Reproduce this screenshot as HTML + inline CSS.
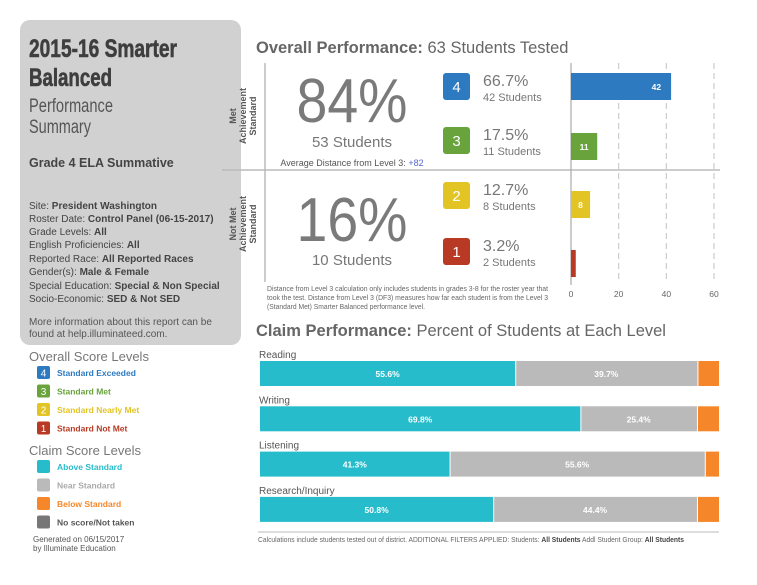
<!DOCTYPE html>
<html><head><meta charset="utf-8"><style>
body{margin:0;background:#fff;}
svg{display:block;font-family:"Liberation Sans",sans-serif;}
</style></head><body>
<svg id="c" width="757" height="585" viewBox="0 0 757 585">
<rect x="20" y="20" width="221" height="325" rx="10" fill="#d1d1d1"/>
<g font-weight="bold" fill="#3e3e3e" stroke="#3e3e3e" stroke-width="0.6" font-size="25">
<text x="29" y="57" textLength="148" lengthAdjust="spacingAndGlyphs">2015-16 Smarter</text>
<text x="29" y="86" textLength="83" lengthAdjust="spacingAndGlyphs">Balanced</text></g>
<g fill="#555" font-size="19">
<text x="29" y="112" textLength="84" lengthAdjust="spacingAndGlyphs">Performance</text>
<text x="29" y="133" textLength="62" lengthAdjust="spacingAndGlyphs">Summary</text></g>
<text x="29" y="167" font-size="12.5" font-weight="bold" fill="#444">Grade 4 ELA Summative</text>
<g font-size="10" fill="#444">
<text x="29" y="209">Site: <tspan font-weight="bold">President Washington</tspan></text>
<text x="29" y="222">Roster Date: <tspan font-weight="bold">Control Panel (06-15-2017)</tspan></text>
<text x="29" y="235">Grade Levels: <tspan font-weight="bold">All</tspan></text>
<text x="29" y="248">English Proficiencies: <tspan font-weight="bold">All</tspan></text>
<text x="29" y="262">Reported Race: <tspan font-weight="bold">All Reported Races</tspan></text>
<text x="29" y="275">Gender(s): <tspan font-weight="bold">Male &amp; Female</tspan></text>
<text x="29" y="289">Special Education: <tspan font-weight="bold">Special &amp; Non Special</tspan></text>
<text x="29" y="302">Socio-Economic: <tspan font-weight="bold">SED &amp; Not SED</tspan></text>
<text x="29" y="325" fill="#555">More information about this report can be</text>
<text x="29" y="337" fill="#555">found at help.illuminateed.com.</text></g>
<text x="29" y="361" font-size="13" fill="#777">Overall Score Levels</text>
<text x="29" y="455" font-size="13" fill="#777">Claim Score Levels</text>
<g id="legend"></g>
<text x="33" y="542" font-size="8" fill="#555">Generated on 06/15/2017</text>
<text x="33" y="551" font-size="8" fill="#555">by Illuminate Education</text>

<text x="256" y="53" font-size="16.5" fill="#666"><tspan font-weight="bold">Overall Performance:</tspan> 63 Students Tested</text>
<line x1="222" y1="170" x2="720" y2="170" stroke="#bbb" stroke-width="1.5"/>
<line x1="265" y1="63" x2="265" y2="282" stroke="#bbb" stroke-width="1.5"/>
<g font-size="9" font-weight="bold" fill="#555" text-anchor="middle" transform="translate(246 116) rotate(-90)">
<text x="0" y="-10">Met</text><text x="0" y="0">Achievement</text><text x="0" y="10">Standard</text></g>
<g font-size="9" font-weight="bold" fill="#555" text-anchor="middle" transform="translate(246 224) rotate(-90)">
<text x="0" y="-10">Not Met</text><text x="0" y="0">Achievement</text><text x="0" y="10">Standard</text></g>
<text x="352" y="122" text-anchor="middle" font-size="62" fill="#7a7a7a" textLength="111" lengthAdjust="spacingAndGlyphs">84%</text>
<text x="352" y="147" text-anchor="middle" font-size="15" fill="#777">53 Students</text>
<text x="352" y="166" text-anchor="middle" font-size="9" fill="#555">Average Distance from Level 3: <tspan fill="#5566cc">+82</tspan></text>
<text x="352" y="241" text-anchor="middle" font-size="62" fill="#7a7a7a" textLength="111" lengthAdjust="spacingAndGlyphs">16%</text>
<text x="352" y="265" text-anchor="middle" font-size="15" fill="#777">10 Students</text>
<g font-size="7.5" fill="#666">
<text x="267" y="291" textLength="281" lengthAdjust="spacingAndGlyphs">Distance from Level 3 calculation only includes students in grades 3-8 for the roster year that</text>
<text x="267" y="300" textLength="281" lengthAdjust="spacingAndGlyphs">took the test. Distance from Level 3 (DF3) measures how far each student is from the Level 3</text>
<text x="267" y="309" textLength="158" lengthAdjust="spacingAndGlyphs">(Standard Met) Smarter Balanced performance level.</text></g>
<g id="levels"></g>
<g id="overall"></g>

<text x="256" y="336" font-size="16.5" fill="#666"><tspan font-weight="bold">Claim Performance:</tspan> Percent of Students at Each Level</text>
<g id="claims"></g>
<line x1="258" y1="532" x2="719" y2="532" stroke="#bbb"/>
<text x="258" y="542" font-size="7.5" fill="#666" textLength="426" lengthAdjust="spacingAndGlyphs">Calculations include students tested out of district. ADDITIONAL FILTERS APPLIED:  Students: <tspan font-weight="bold" fill="#444">All Students</tspan>   Addl Student Group: <tspan font-weight="bold" fill="#444">All Students</tspan></text>
</svg>
<script>
const levelNums=[4,3,2,1];
const levelPcts=["66.7%","17.5%","12.7%","3.2%"];
const levelCounts=[42,11,8,2];
const levelColors=["#2e7ac1","#68a33c","#e3c425","#b83a24"];
const axisTicks=[0,20,40,60];
const claimNames=["Reading","Writing","Listening","Research/Inquiry"];
const claimAbove=[55.6,69.8,41.3,50.8];
const claimNear=[39.7,25.4,55.6,44.4];
const legendOverall=["Standard Exceeded","Standard Met","Standard Nearly Met","Standard Not Met"];
const legendClaim=["Above Standard","Near Standard","Below Standard","No score/Not taken"];
const claimColors=["#27bccb","#bababa","#f5872a","#777777"];
const NS="http://www.w3.org/2000/svg";
function mk(p,t,a,txt){const e=document.createElementNS(NS,t);for(const k in a)e.setAttribute(k,a[k]);if(txt!=null)e.textContent=txt;p.appendChild(e);return e;}
const xs=v=>571+v*(714-571)/60;
const cx=p=>260+p*(719-260)/100;
const lg=document.getElementById('legend');
legendOverall.forEach((n,i)=>{const y=366+i*18.5;
 const r=mk(lg,'rect',{x:37,y:y,width:13,height:13,rx:2,fill:levelColors[i]});
 
 
 mk(lg,'text',{x:43.5,y:y+10.5,'font-size':10,fill:'#fff','text-anchor':'middle'},levelNums[i]);
 const t=mk(lg,'text',{x:57,y:y+10,'font-size':8.5,'font-weight':'bold',fill:levelColors[i]},n);
 
 });
legendClaim.forEach((n,i)=>{const y=460+i*18.5;
 const r=mk(lg,'rect',{x:37,y:y,width:13,height:13,rx:2,fill:claimColors[i]});
 
 
 const t=mk(lg,'text',{x:57,y:y+10,'font-size':8.5,'font-weight':'bold',fill:i==3?'#555':(i==1?'#aaa':claimColors[i])},n);
 
 });
const lv=document.getElementById('levels');
const rowY=[73,127,182,238];
levelNums.forEach((n,i)=>{const y=rowY[i];
 const b=mk(lv,'rect',{x:443,y:y,width:27,height:27,rx:3,fill:levelColors[i]});
 
 
 mk(lv,'text',{x:456.5,y:y+19,'font-size':15,fill:'#fff','text-anchor':'middle'},n);
 const p=mk(lv,'text',{x:483,y:y+13,'font-size':16,fill:'#777'},levelPcts[i]);
 
 
 const s=mk(lv,'text',{x:483,y:y+28,'font-size':11,fill:'#777'},levelCounts[i]+' Students');
 
 });
const ov=document.getElementById('overall');
axisTicks.forEach((t,i)=>{const x=xs(t);
 if(i>0){const g=mk(ov,'line',{x1:x,y1:63,x2:x,y2:283,stroke:'#ccc','stroke-dasharray':'6,4','stroke-width':1.2});
 
 }
 const l=mk(ov,'text',{x:x,y:297,'font-size':8.5,fill:'#666','text-anchor':'middle'},t);
 
 });
const ax=mk(ov,'line',{x1:571,y1:63,x2:571,y2:285,stroke:'#aaa','stroke-width':1.2});


const barY=[73,133,191,250];
levelCounts.forEach((c,i)=>{
 const r=mk(ov,'rect',{x:571,y:barY[i],width:xs(c)-571,height:27,fill:levelColors[i]});
 
 
 if(c>=5){const t=mk(ov,'text',{x:c>20?xs(c)-10:571+(xs(c)-571)/2,y:barY[i]+17,'font-size':8.5,'font-weight':'bold',fill:'#fff','text-anchor':c>20?'end':'middle'},c);
 
 }});
const cl=document.getElementById('claims');
claimNames.forEach((n,i)=>{const y=361+i*45.3;
 const l=mk(cl,'text',{x:259,y:y-3,'font-size':10,fill:'#555'},n);
 
 
 const a=claimAbove[i],nr=claimNear[i],b=100-a-nr;
 const segs=[[0,a,claimColors[0]],[a,nr,claimColors[1]],[a+nr,b,claimColors[2]]];
 segs.forEach((s,j)=>{const x0=cx(s[0]),x1=cx(s[0]+s[1]);
  const r=mk(cl,'rect',{x:x0+(j?1:0),y:y,width:Math.max(0,x1-x0-(j?1:0)),height:25,fill:s[2]});
  
  
  if(j<2){const t=mk(cl,'text',{x:(x0+x1)/2,y:y+16,'font-size':8.5,'font-weight':'bold',fill:'#fff','text-anchor':'middle'},s[1].toFixed(1)+'%');
  
  }});});
</script>
</body></html>
